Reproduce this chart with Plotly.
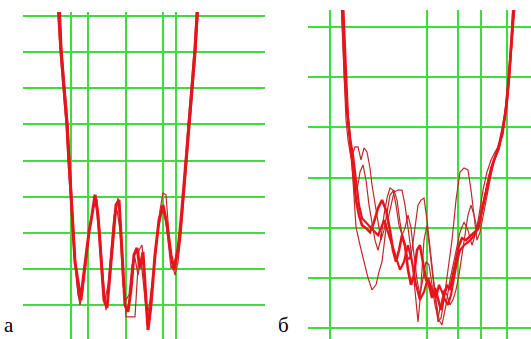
import plotly.graph_objects as go

# Panel "а": x in panel units, y in grid-step units
a1_x = [35,38,41,44,46,48,50,52,54,56,58,60,63,66,69,72,75,78,81,84,87,90,93,96,99,102,105,108,111,114,117,120,123,125,128,132,136,140,144,148,151,155,158,160,163,166,169,172,175]
a1_y = [8.45,7.04,6.01,5.01,3.99,2.96,2.08,1.19,0.83,0.42,0.14,0.69,1.39,2.02,2.49,3.05,2.49,1.25,0.14,-0.08,0.83,1.80,2.77,2.91,1.52,0.00,-0.19,0.42,1.39,1.58,1.02,1.47,0.14,-0.69,0.00,1.39,2.35,2.77,2.22,1.39,0.97,1.52,2.35,2.96,3.99,5.01,6.01,7.04,8.45]

a2_x = [37,39,42,45,47,49,51,53,55,57,59,62,65,68,71,74,77,80,83,86,89,92,95,98,101,103,112,114,116,119,122,124,127,130,134,137,140,143,146,149,152,155,158,161,164,167,170,173,176]
a2_y = [8.45,7.04,6.01,5.01,3.99,2.96,1.94,0.97,0.28,0.08,0.42,1.19,1.80,2.30,2.91,2.91,2.02,0.83,-0.14,0.42,1.39,2.35,2.96,2.22,0.69,-0.33,-0.33,0.69,1.52,1.66,0.69,-0.28,-0.42,0.69,1.80,2.63,3.10,3.05,1.94,1.19,0.83,1.19,1.94,2.91,3.99,5.01,6.01,7.04,8.45]

a3_x = [34,37,40,43,45,47,49,51,54,57,60,63,67,70,73,76,79,82,85,88,91,94,97,100,103,106,109,112,115,118,121,124,127,131,135,139,142,145,148,152,156,159,162,165,168,171,174]
a3_y = [8.45,7.04,6.01,5.01,3.99,2.96,2.22,1.39,0.55,0.00,0.42,1.11,2.22,2.69,2.77,1.94,0.69,0.14,0.55,1.52,2.49,2.63,2.08,0.55,0.14,0.28,1.11,1.30,0.83,1.25,0.42,-0.36,0.14,1.19,2.08,2.58,2.49,1.80,1.02,1.25,1.80,2.63,3.99,5.01,6.01,7.04,8.45]

# Panel "б"
b1_x = [34,35,37,39,41,43,45,48,51,54,58,62,66,70,74,78,82,85,88,91,94,97,100,103,106,109,112,115,118,121,124,127,130,133,136,139,142,145,148,151,154,158,162,166,170,174,178,182,186,190,194,198,201,204,206]
b1_y = [6.54,6.00,4.98,4.35,3.95,3.55,3.05,2.55,2.25,2.05,1.99,1.91,2.11,2.39,2.55,2.35,1.95,1.55,1.32,1.55,1.85,1.65,1.16,0.86,1.06,1.55,1.65,1.32,0.96,0.86,0.60,0.80,0.56,0.36,0.64,0.86,0.76,1.06,1.40,1.65,1.79,1.75,1.83,1.91,1.97,2.35,2.71,3.05,3.35,3.55,3.91,4.35,4.98,6.00,6.54]

b2_x = [35,36,38,40,42,44,46,48,52,56,60,64,68,71,74,76,78,82,86,90,94,97,100,103,106,108,110,112,114,116,119,122,125,128,130,133,136,140,144,148,152,156,160,163,166,169,172,176,180,184,188,192,196,199,202,204,206]
b2_y = [6.54,6.00,4.98,4.25,3.85,3.25,2.55,2.01,1.65,1.32,1.00,0.76,0.86,1.12,1.32,1.65,1.99,2.35,2.71,2.75,2.75,2.45,2.05,1.55,0.96,0.56,0.12,0.56,1.16,1.75,2.05,1.55,1.06,0.56,0.12,0.20,0.56,1.16,1.75,2.55,3.11,3.19,3.15,2.75,2.25,1.75,1.91,2.35,2.79,3.15,3.51,3.75,4.11,4.74,5.44,6.00,6.54]

b3_x = [33,34,36,38,40,43,47,50,53,56,59,62,64,67,70,73,76,79,82,86,89,92,95,98,101,104,107,110,113,116,119,122,125,128,131,134,138,142,146,149,152,156,160,164,168,171,175,179,183,187,191,195,199,202,205,207]
b3_y = [6.54,6.00,4.98,4.15,3.75,3.39,3.61,3.61,3.35,3.59,3.51,3.19,2.85,2.45,2.11,1.75,1.95,2.35,2.65,2.75,2.55,2.11,1.75,1.51,1.36,1.55,2.05,2.45,2.55,2.59,2.15,1.55,1.06,0.56,0.16,0.06,0.46,0.96,1.36,1.65,1.91,2.11,1.95,1.65,1.91,2.25,2.75,3.11,3.35,3.51,3.63,3.85,4.44,5.14,6.00,6.54]

b4_x = [34,35,37,39,41,44,46,49,52,55,58,61,64,67,70,73,76,79,82,85,88,91,94,97,100,103,106,109,112,115,118,121,124,127,130,133,136,139,142,145,148,151,154,157,160,163,166,169,172,176,180,184,188,192,196,200,203,205]
b4_y = [6.54,6.00,4.98,4.31,3.91,3.35,2.95,2.75,3.11,3.25,2.95,2.45,2.05,1.75,1.55,1.79,2.25,2.59,2.79,2.75,2.45,2.05,1.85,1.99,2.25,1.99,1.46,0.96,0.66,0.96,1.32,1.26,0.86,0.46,0.20,0.46,0.76,0.66,0.46,0.56,0.76,1.06,1.46,1.85,2.25,2.45,2.25,1.99,2.19,2.55,2.95,3.25,3.45,3.65,4.05,4.74,5.64,6.54]

b5_x = [35,36,38,40,42,45,48,51,54,58,62,66,70,73,76,80,84,88,92,96,100,104,108,112,116,120,124,128,131,134,137,140,143,146,149,152,156,160,164,168,171,175,179,183,187,191,195,199,202,205,207]
b5_y = [6.54,6.00,4.98,4.19,3.79,3.45,2.95,2.45,2.19,2.11,2.03,1.95,1.85,1.99,2.15,1.91,1.65,1.40,1.16,1.32,1.65,1.32,0.86,0.56,0.72,1.00,0.76,0.60,0.86,0.72,0.56,0.46,0.66,1.00,1.32,1.55,1.65,1.71,1.79,1.91,2.05,2.45,2.85,3.19,3.39,3.59,3.99,4.54,5.24,6.00,6.54]

# grid positions
a_xgrid = [48, 65, 103, 140, 153]
a_ygrid = [0, 1, 2, 3, 4, 5, 6, 7, 8]
b_xgrid = [22, 119, 150, 173, 199]
b_ygrid = [0, 1, 2, 3, 4, 5, 6]
labels = ["а", "б"]

RED = "#e8141c"
DARK = "#c0282a"
GREEN = "#3fdc3f"

fig = go.Figure()
for xs, ys, col, w in [(a3_x, a3_y, DARK, 1.2), (a2_x, a2_y, DARK, 1.2), (a1_x, a1_y, RED, 3)]:
    fig.add_trace(go.Scatter(x=xs, y=ys, mode="lines", line=dict(color=col, width=w),
                             xaxis="x", yaxis="y", showlegend=False, hoverinfo="skip"))
for xs, ys, col, w in [(b2_x, b2_y, DARK, 1.2), (b3_x, b3_y, DARK, 1.2), (b4_x, b4_y, DARK, 1.2),
                       (b5_x, b5_y, RED, 2.2), (b1_x, b1_y, RED, 2.6)]:
    fig.add_trace(go.Scatter(x=xs, y=ys, mode="lines", line=dict(color=col, width=w),
                             xaxis="x2", yaxis="y2", showlegend=False, hoverinfo="skip"))

ax = dict(showticklabels=False, ticks="", zeroline=False, showline=False,
          showgrid=True, gridcolor=GREEN, gridwidth=2, tickmode="array", fixedrange=True)

fig.update_layout(
    width=531, height=339,
    margin=dict(l=0, r=0, t=0, b=0),
    paper_bgcolor="white", plot_bgcolor="white",
    xaxis=dict(ax, domain=[23/531, 265/531], range=[0, 242], tickvals=a_xgrid),
    yaxis=dict(ax, domain=[0, 1 - 12/339], range=[-0.94, 8.11], tickvals=a_ygrid),
    xaxis2=dict(ax, domain=[308/531, 1.0], range=[0, 223], tickvals=b_xgrid, anchor="y2"),
    yaxis2=dict(ax, domain=[0, 1 - 10/339], range=[-0.22, 6.34], tickvals=b_ygrid, anchor="x2"),
    annotations=[
        dict(text=labels[0], xref="paper", yref="paper", x=2/531, y=0, xanchor="left", yanchor="bottom",
             showarrow=False, font=dict(family="Liberation Serif, Times New Roman, serif", size=21, color="black")),
        dict(text=labels[1], xref="paper", yref="paper", x=276/531, y=0, xanchor="left", yanchor="bottom",
             showarrow=False, font=dict(family="Liberation Serif, Times New Roman, serif", size=21, color="black")),
    ],
)

fig.write_html("out.html")
